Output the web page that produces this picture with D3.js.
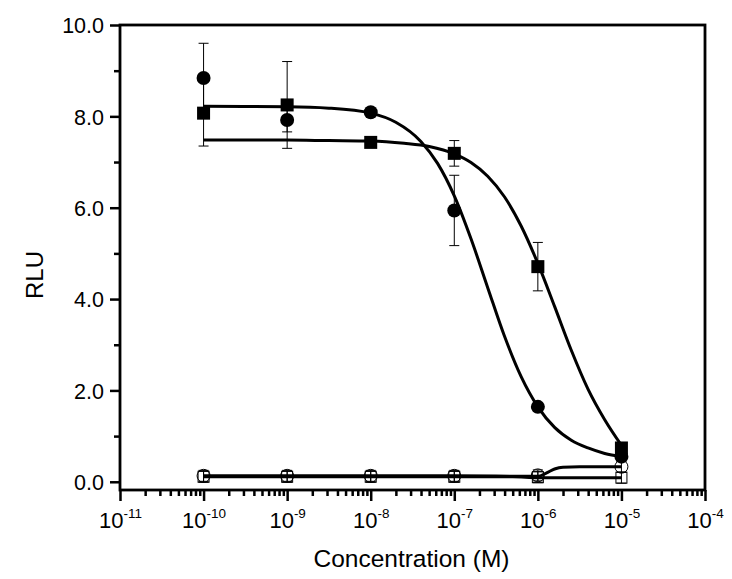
<!DOCTYPE html>
<html>
<head>
<meta charset="utf-8">
<script src="https://cdn.jsdelivr.net/npm/d3@7"></script>
<style>
  body { margin: 0; background: #fff; }
  svg { font-family: "Liberation Sans", Arial, sans-serif; }
</style>
</head>
<body>
<svg id="chart" width="732" height="579"></svg>
<script>
// measured points
const conc = [1e-10, 1e-9, 1e-8, 1e-7, 1e-6, 1e-5];
const circleMean = [8.84, 7.92, 8.09, 5.94, 1.64, 0.55];
const circleErr = [0.76, 0.26, 0.05, 0.77, 0.08, 0.05];
const squareMean = [8.07, 8.25, 7.43, 7.19, 4.71, 0.74];
const squareErr = [0.72, 0.95, 0.05, 0.28, 0.53, 0.1];
const openCircleMean = [0.13, 0.13, 0.13, 0.13, 0.14, 0.33];
const openSquareMean = [0.11, 0.11, 0.11, 0.11, 0.1, 0.09];
const openErr = [0.12, 0.12, 0.12, 0.12, 0.12, 0.12];

// fitted curves (log10 of concentration, RLU)
const circleFitLog = [-10, -9, -8.5, -8, -7.7, -7.4, -7.2, -7.0, -6.8, -6.6, -6.4, -6.2, -6.0, -5.8, -5.6, -5.4, -5.2, -5.0];
const circleFitY = [8.22, 8.21, 8.18, 8.07, 7.87, 7.45, 6.97, 6.26, 5.32, 4.25, 3.19, 2.30, 1.64, 1.19, 0.91, 0.74, 0.62, 0.55];
const squareFitLog = [-10, -9, -8.5, -8, -7.6, -7.3, -7.0, -6.8, -6.6, -6.4, -6.2, -6.0, -5.8, -5.6, -5.4, -5.2, -5.0];
const squareFitY = [7.48, 7.48, 7.47, 7.46, 7.41, 7.34, 7.18, 6.99, 6.69, 6.24, 5.60, 4.78, 3.84, 2.88, 2.03, 1.36, 0.80];
const openCircleFitLog = [-10, -9, -8, -7, -6, -5.9, -5.8, -5.7, -5.5, -5.0];
const openCircleFitY = [0.13, 0.13, 0.13, 0.13, 0.12, 0.19, 0.28, 0.32, 0.33, 0.33];
const openSquareFitLog = [-10, -8, -6.3, -6, -5.0];
const openSquareFitY = [0.11, 0.11, 0.11, 0.09, 0.09];

const yMajor = [0, 2, 4, 6, 8, 10];
const yMinor = [1, 3, 5, 7, 9];
const xDecades = [-11, -10, -9, -8, -7, -6, -5, -4];

const margin = {top: 25, right: 27, bottom: 89, left: 120};
const width = 732 - margin.left - margin.right,
    height = 579 - margin.top - margin.bottom;

const svg = d3.select("#chart");
const g = svg.append("g").attr("transform", "translate(" + margin.left + "," + margin.top + ")");

const x = d3.scaleLog().domain([1e-11, 1e-4]).range([0, width]);
const y = d3.scaleLinear().domain([-0.18, 10]).range([height, 0]);

// minor x ticks: 2..9 within each decade
const xMinor = [];
xDecades.slice(0, -1).forEach(function (d) {
    for (let k = 2; k <= 9; k++) xMinor.push(k * Math.pow(10, d));
});

// y axis
g.append("g")
    .attr("class", "axis")
    .call(d3.axisLeft(y).tickValues(yMinor).tickSize(6).tickFormat(""));
const yAx = g.append("g")
    .attr("class", "axis")
    .call(d3.axisLeft(y).tickValues(yMajor).tickSize(10).tickPadding(6).tickFormat(d3.format(".1f")));
yAx.selectAll("text").style("font-size", "21.5px").attr("dy", "0.36em");

// x axis
g.append("g")
    .attr("class", "axis")
    .attr("transform", "translate(0," + height + ")")
    .call(d3.axisBottom(x).tickValues(xMinor).tickSize(6).tickFormat(""));
const xAx = g.append("g")
    .attr("class", "axis")
    .attr("transform", "translate(0," + height + ")")
    .call(d3.axisBottom(x).tickValues(xDecades.map(function (d) { return Math.pow(10, d); })).tickSize(11).tickFormat(""));
xAx.selectAll(".tick").each(function (d, i) {
    const t = d3.select(this).append("text")
        .attr("y", 38)
        .attr("fill", "#000")
        .attr("text-anchor", "middle")
        .style("font-size", "22px");
    t.append("tspan").text("10");
    t.append("tspan").attr("dy", "-10").style("font-size", "13.5px").text(xDecades[i]);
});

g.selectAll(".axis path.domain").remove();
g.selectAll(".axis line").attr("stroke", "#000").attr("stroke-width", 2.5);

// frame
g.append("rect")
    .attr("width", width).attr("height", height)
    .attr("fill", "none").attr("stroke", "#000").attr("stroke-width", 2.8);

// axis titles
svg.append("text")
    .attr("x", margin.left + width / 2 - 1)
    .attr("y", 567)
    .attr("text-anchor", "middle")
    .style("font-size", "24.5px")
    .text("Concentration (M)");
svg.append("text")
    .attr("transform", "translate(43,275) rotate(-90)")
    .attr("text-anchor", "middle")
    .style("font-size", "24px")
    .text("RLU");

// fitted curves
const line = d3.line()
    .x(function (d) { return x(Math.pow(10, d[0])); })
    .y(function (d) { return y(d[1]); })
    .curve(d3.curveMonotoneX);
[[openSquareFitLog, openSquareFitY], [openCircleFitLog, openCircleFitY],
 [squareFitLog, squareFitY], [circleFitLog, circleFitY]].forEach(function (s) {
    g.append("path")
        .datum(d3.zip(s[0], s[1]))
        .attr("d", line)
        .attr("fill", "none")
        .attr("stroke", "#000")
        .attr("stroke-width", 3);
});

// error bars
function errorBars(means, errs) {
    const cap = 5;
    conc.forEach(function (c, i) {
        const cx = x(c), y0 = y(means[i] - errs[i]), y1 = y(means[i] + errs[i]);
        const eb = g.append("g").attr("stroke", "#000").attr("stroke-width", 1);
        eb.append("line").attr("x1", cx).attr("x2", cx).attr("y1", y0).attr("y2", y1);
        eb.append("line").attr("x1", cx - cap).attr("x2", cx + cap).attr("y1", y0).attr("y2", y0);
        eb.append("line").attr("x1", cx - cap).attr("x2", cx + cap).attr("y1", y1).attr("y2", y1);
    });
}
errorBars(openSquareMean, openErr);
errorBars(openCircleMean, openErr);
errorBars(squareMean, squareErr);
errorBars(circleMean, circleErr);

// markers
g.selectAll(".osq").data(openSquareMean).enter().append("rect")
    .attr("x", function (d, i) { return x(conc[i]) - 5.5; })
    .attr("y", function (d) { return y(d) - 5.5; })
    .attr("width", 11).attr("height", 11)
    .attr("fill", "none").attr("stroke", "#000").attr("stroke-width", 1);
g.selectAll(".ocir").data(openCircleMean).enter().append("circle")
    .attr("cx", function (d, i) { return x(conc[i]); })
    .attr("cy", function (d) { return y(d); })
    .attr("r", 6.5)
    .attr("fill", "none").attr("stroke", "#000").attr("stroke-width", 1);
g.selectAll(".sq").data(squareMean).enter().append("rect")
    .attr("x", function (d, i) { return x(conc[i]) - 6.5; })
    .attr("y", function (d) { return y(d) - 6.5; })
    .attr("width", 13).attr("height", 13)
    .attr("fill", "#000");
g.selectAll(".cir").data(circleMean).enter().append("circle")
    .attr("cx", function (d, i) { return x(conc[i]); })
    .attr("cy", function (d) { return y(d); })
    .attr("r", 7)
    .attr("fill", "#000");
</script>
</body>
</html>
